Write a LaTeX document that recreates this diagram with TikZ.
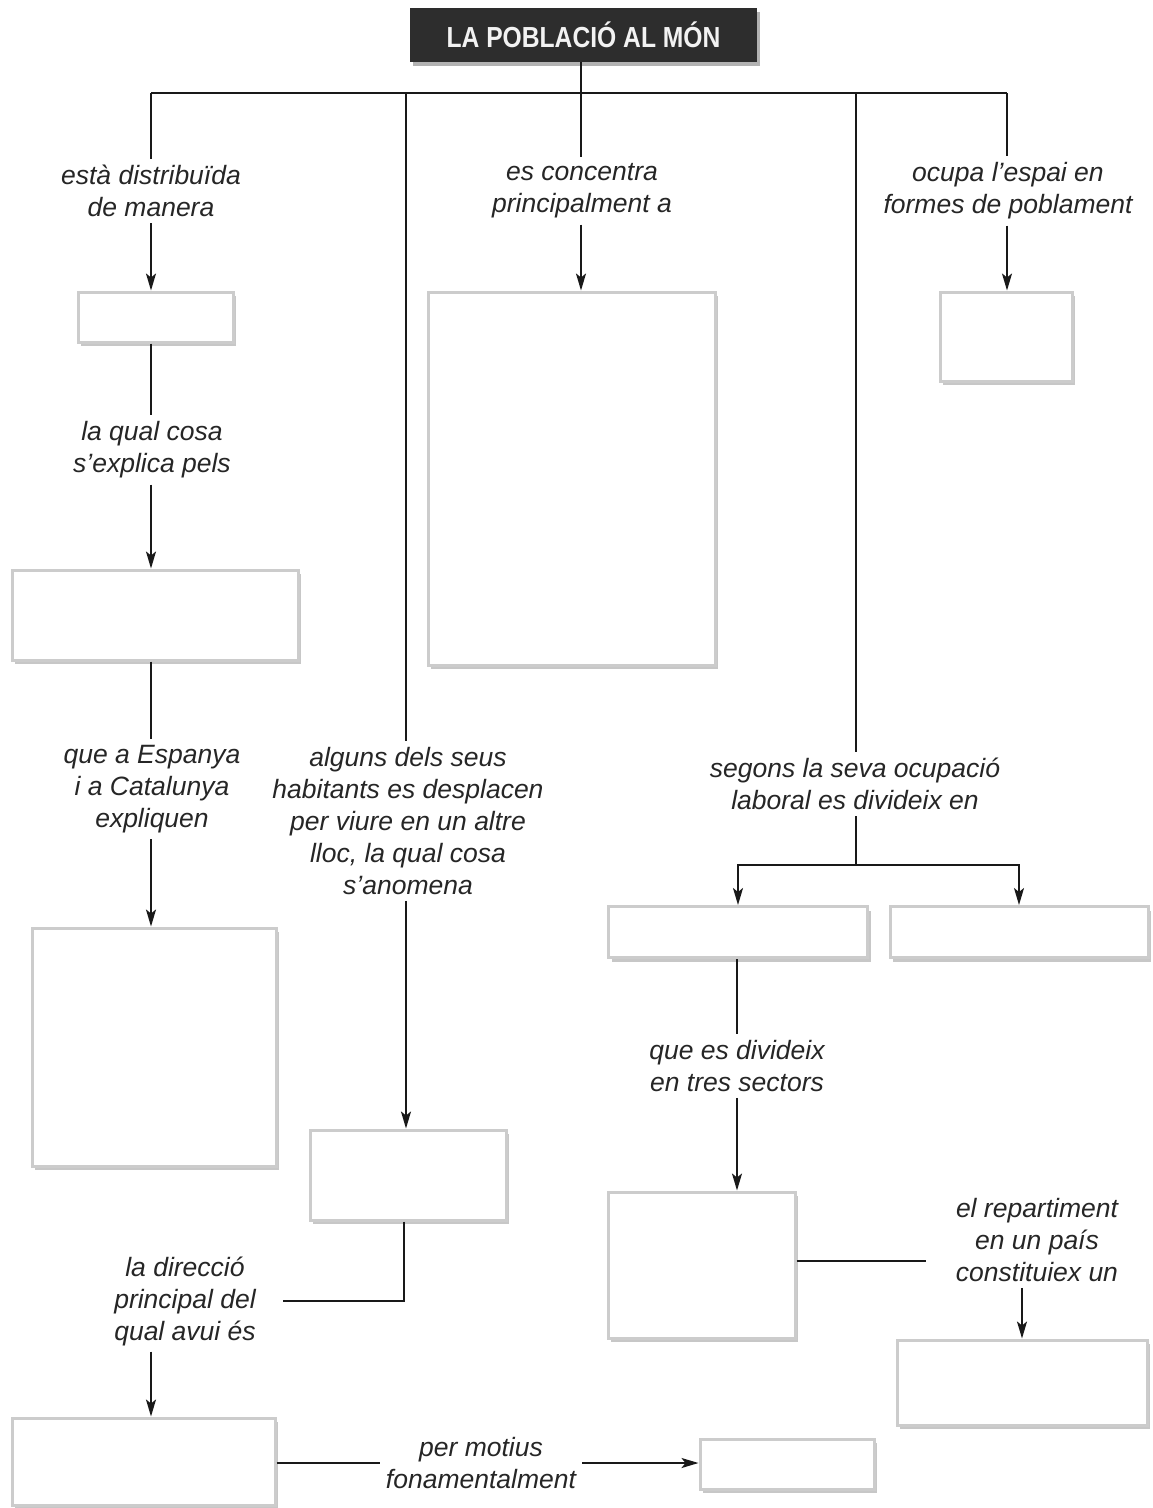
\documentclass[tikz,border=0pt]{standalone}
\usepackage{fontspec}
\setmainfont{Liberation Sans}
\usetikzlibrary{arrows.meta,shadows}
\begin{document}
\begin{tikzpicture}[x=1pt,y=-1pt,
  lbl/.style={font=\fontsize{26.5}{32}\selectfont\itshape, align=center, inner sep=6pt, text=black!85},
  bx/.style={draw=black!20, line width=3pt, fill=white,
    drop shadow={shadow xshift=3pt, shadow yshift=-4pt, opacity=0.22, fill=black}},
  conn/.style={line width=1.8pt, black!90},
  arr/.style={conn, -{Stealth[length=17pt,width=10pt,inset=4pt]}}]
\useasboundingbox (0,0) rectangle (1152,1508);
\fill[white] (0,0) rectangle (1152,1508);

% title
\node[fill={rgb,255:red,45;green,45;blue,45}, minimum width=347pt, minimum height=54pt,
  drop shadow={shadow xshift=3pt, shadow yshift=-4pt, opacity=0.3, fill=black},
  text=white!95!black, font=\bfseries\fontsize{29}{32}\selectfont] (title) at (583.5,35)
  {\scalebox{0.85}[1]{LA POBLACIÓ AL MÓN}};

% junctions
\coordinate (j1) at (151,93);
\coordinate (j2) at (406,93);
\coordinate (j3) at (581,93);
\coordinate (j4) at (856,93);
\coordinate (j5) at (1007,93);

% boxes
\node[bx, minimum width=155pt, minimum height=50pt] (b1) at (155.5,317) {};
\node[bx, minimum width=286pt, minimum height=90pt] (b2) at (155,615) {};
\node[bx, minimum width=244pt, minimum height=238pt] (b3) at (154,1047) {};
\node[bx, minimum width=287pt, minimum height=373pt] (bconc) at (571.5,478.5) {};
\node[bx, minimum width=132pt, minimum height=89pt] (bpob) at (1006,336.5) {};
\node[bx, minimum width=196pt, minimum height=90pt] (bmig) at (408,1175) {};
\node[bx, minimum width=263pt, minimum height=87pt] (bdir) at (143.5,1461.5) {};
\node[bx, minimum width=174pt, minimum height=50pt] (bmot) at (787,1464) {};
\node[bx, minimum width=259pt, minimum height=51pt] (bsl) at (738,932) {};
\node[bx, minimum width=258pt, minimum height=51pt] (bsr) at (1019,932) {};
\node[bx, minimum width=187pt, minimum height=146pt] (btres) at (701.5,1265) {};
\node[bx, minimum width=250pt, minimum height=85pt] (bpais) at (1022,1382.5) {};

% labels
\node[lbl] (l1) at (151,191) {està distribuïda\\de manera};
\node[lbl] (l2) at (152,450) {la qual cosa\\s’explica pels};
\node[lbl] (l3) at (152,789) {que a Espanya\\i a Catalunya\\expliquen};
\node[lbl] (l4) at (582,191) {es concentra\\principalment a};
\node[lbl] (l5) at (1008,191) {ocupa l’espai en\\formes de poblament};
\node[lbl] (l6) at (408,821) {alguns dels seus\\habitants es desplacen\\per viure en un altre\\lloc, la qual cosa\\s’anomena};
\node[lbl] (l7) at (185,1301) {la direcció\\principal del\\qual avui és};
\node[lbl] (l8) at (481,1463) {per motius\\fonamentalment};
\node[lbl] (l9) at (855,784) {segons la seva ocupació\\laboral es divideix en};
\node[lbl] (l10) at (737,1066) {que es divideix\\en tres sectors};
\node[lbl] (l11) at (1037,1240) {el repartiment\\en un país\\constituiex un};

% connectors from title
\draw[conn] (j3 |- title.south) -- (j3);
\draw[conn] (j1) -- (j5);

% branch 1
\draw[conn] (j1) -- (j1 |- l1.north);
\draw[arr] (j1 |- l1.south) -- (j1 |- b1.north);
\draw[conn] (j1 |- b1.south) -- (j1 |- l2.north);
\draw[arr] (j1 |- l2.south) -- (j1 |- b2.north);
\draw[conn] (j1 |- b2.south) -- (j1 |- l3.north);
\draw[arr] (j1 |- l3.south) -- (j1 |- b3.north);

% branch 2
\draw[conn] (j2) -- (j2 |- l6.north);
\draw[arr] (j2 |- l6.south) -- (j2 |- bmig.north);
\draw[conn] ([xshift=-2pt]j2 |- bmig.south) |- ([xshift=21pt]l7.east);
\draw[arr] (j1 |- l7.south) -- (j1 |- bdir.north);
\draw[conn] (bdir.east |- l8.west) -- (l8.west);
\draw[arr] (l8.east) -- (bmot.west |- l8.east);

% branch 3
\draw[conn] (j3) -- (j3 |- l4.north);
\draw[arr] (j3 |- l4.south) -- (j3 |- bconc.north);

% branch 5
\draw[conn] (j5) -- (j5 |- l5.north);
\draw[arr] (j5 |- l5.south) -- (j5 |- bpob.north);

% branch 4
\draw[conn] (j4) -- (j4 |- l9.north);
\coordinate (split) at (856,865);
\draw[conn] (j4 |- l9.south) -- (split);
\draw[arr] (split) -| (bsl.north);
\draw[arr] (split) -| (bsr.north);
\draw[conn] (l10.north |- bsl.south) -- (l10.north);
\draw[arr] (l10.south) -- (l10.south |- btres.north);
\draw[conn] ([yshift=4pt]btres.east) -- ([xshift=-24pt,yshift=4pt]l11.west |- btres.east);
\draw[arr] (bpais.north |- l11.south) -- (bpais.north);
\end{tikzpicture}
\end{document}
